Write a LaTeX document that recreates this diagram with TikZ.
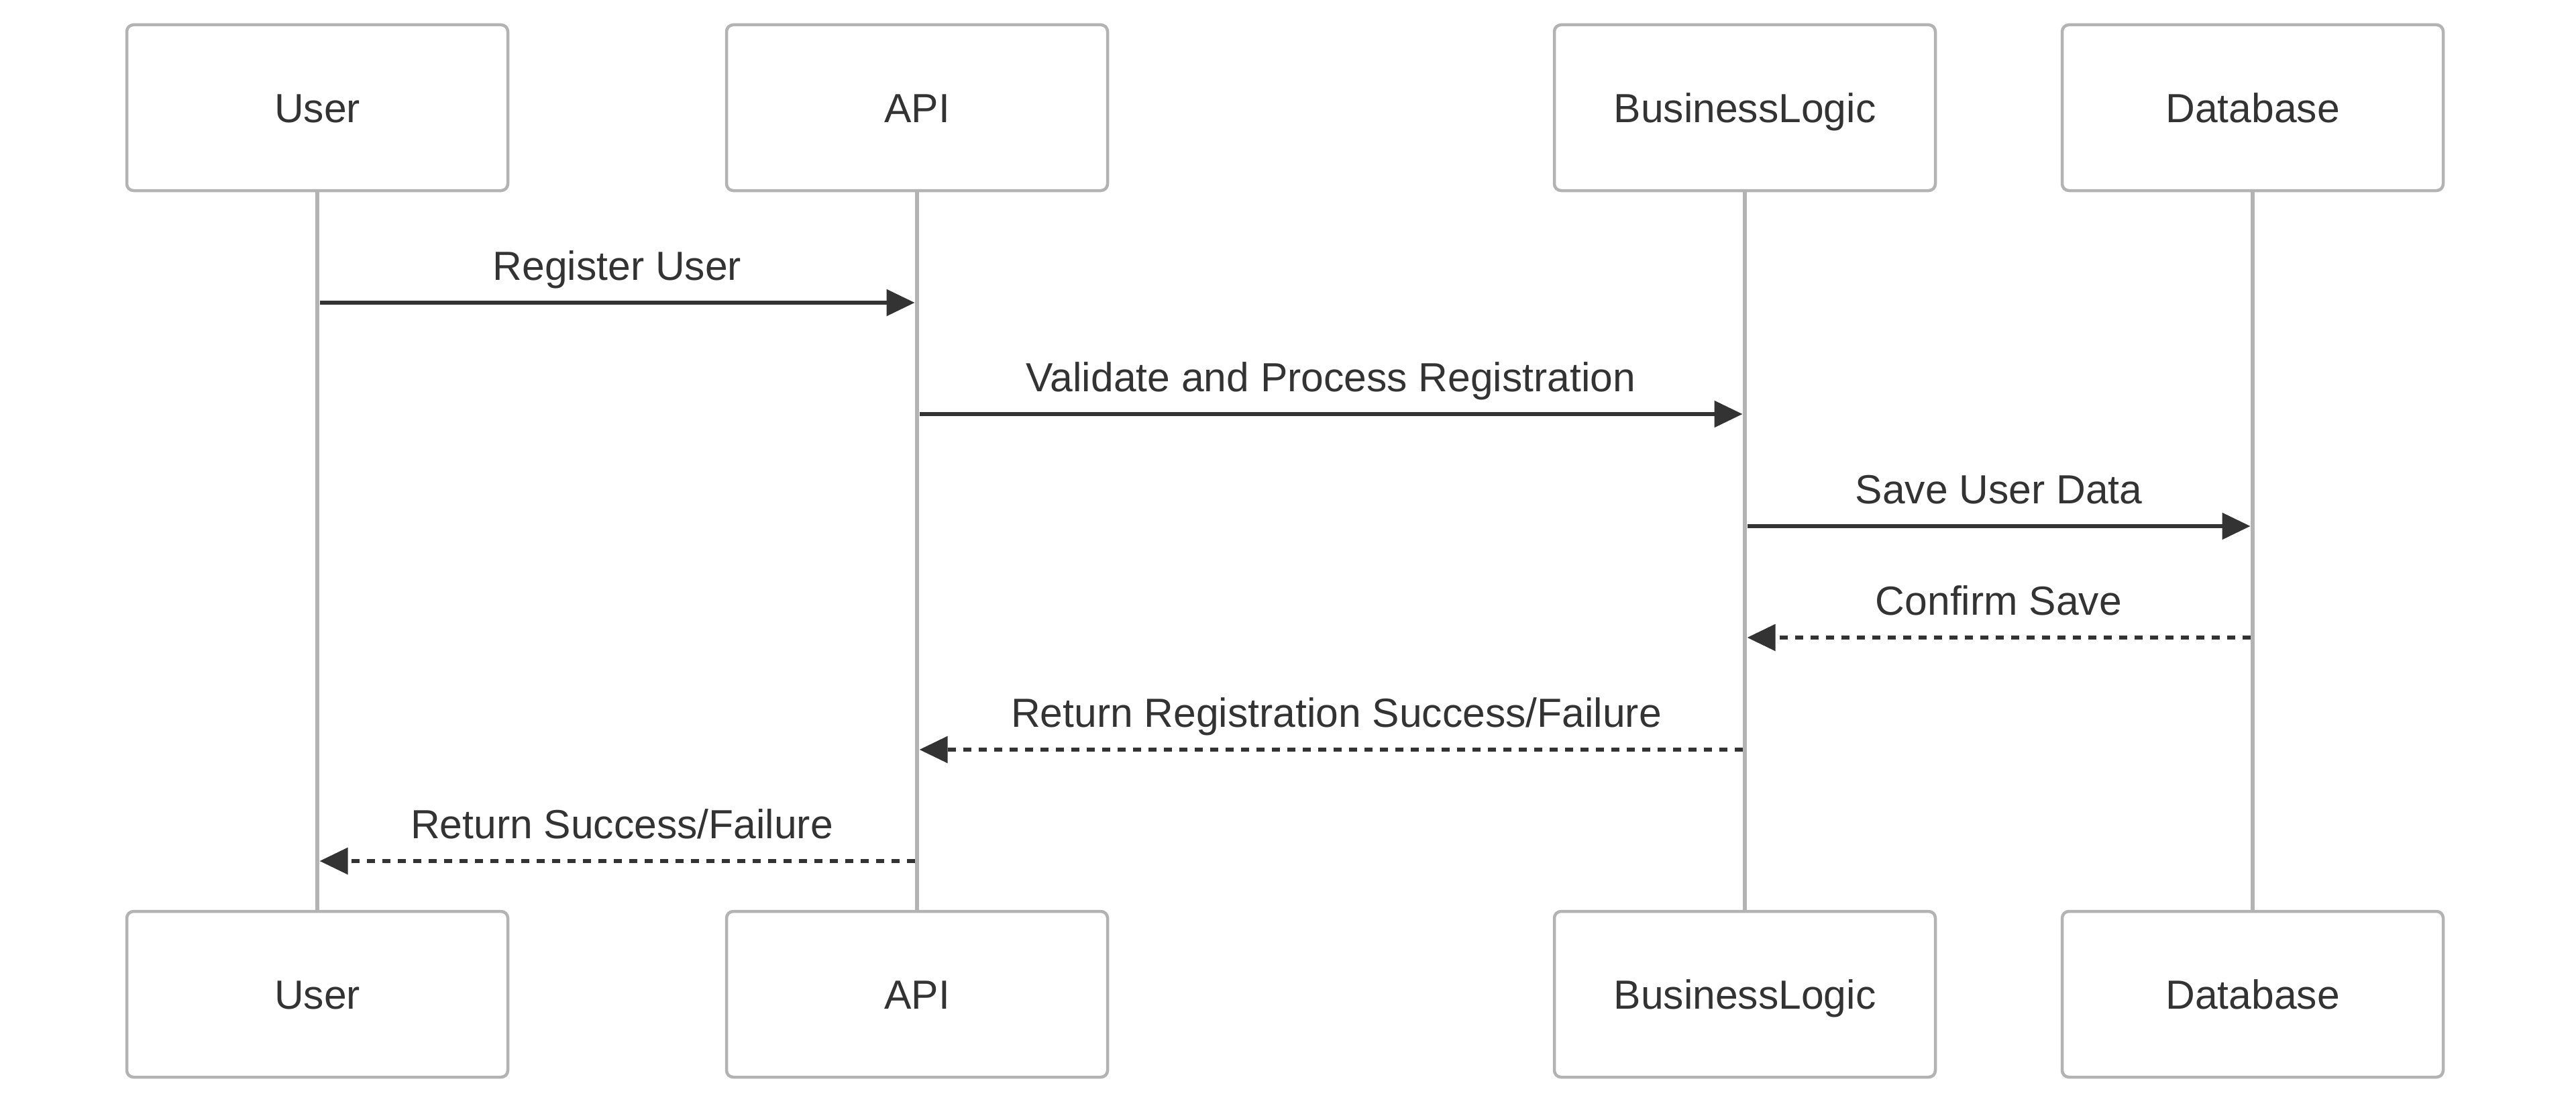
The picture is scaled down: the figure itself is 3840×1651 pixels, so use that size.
\documentclass[tikz,border=0pt]{standalone}
\usepackage{fontspec}
\setmainfont{Liberation Sans}
\usetikzlibrary{arrows.meta}
\definecolor{boxline}{HTML}{B3B3B3}
\definecolor{ink}{HTML}{333333}
\begin{document}
\begin{tikzpicture}[x=1pt,y=-1pt,
  actor/.style={draw=boxline, line width=4.5pt, rounded corners=10pt, fill=white,
    minimum width=568pt, minimum height=247pt, inner sep=0pt,
    text height=43.5pt, text depth=0pt,
    font=\fontsize{60.6}{72}\selectfont, text=ink},
  life/.style={draw=boxline, line width=6.5pt},
  msg/.style={draw=ink, line width=5.5pt, -{Triangle[length=42pt,width=39pt]},
    shorten >=3.5pt, shorten <=3.5pt},
  reply/.style={msg, dash pattern=on 11.5pt off 11.5pt},
  lbl/.style={font=\fontsize{60.6}{72}\selectfont, text=ink, anchor=base,
    inner sep=0pt, midway, yshift=34pt}]
\fill[white] (0,0) rectangle (3840,1651);
\useasboundingbox (0,0) rectangle (3840,1651);
% actors
\node[actor] (u1) at (473,160.5) {User};
\node[actor] (a1) at (1367,160.5) {API};
\node[actor] (b1) at (2601,160.5) {BusinessLogic};
\node[actor] (d1) at (3358,160.5) {Database};
\node[actor] (u2) at (473,1481.5) {User};
\node[actor] (a2) at (1367,1481.5) {API};
\node[actor] (b2) at (2601,1481.5) {BusinessLogic};
\node[actor] (d2) at (3358,1481.5) {Database};
% lifelines
\draw[life] (u1.south) -- (u2.north);
\draw[life] (a1.south) -- (a2.north);
\draw[life] (b1.south) -- (b2.north);
\draw[life] (d1.south) -- (d2.north);
% message rows
\coordinate (r1) at (0,451);
\coordinate (r2) at (0,617);
\coordinate (r3) at (0,784);
\coordinate (r4) at (0,950);
\coordinate (r5) at (0,1117);
\coordinate (r6) at (0,1283);
\draw[msg] (u1.south |- r1) -- node[lbl] {Register User} (a1.south |- r1);
\draw[msg] (a1.south |- r2) -- node[lbl] {Validate and Process Registration} (b1.south |- r2);
\draw[msg] (b1.south |- r3) -- node[lbl] {Save User Data} (d1.south |- r3);
\draw[reply] (d1.south |- r4) -- node[lbl] {Confirm Save} (b1.south |- r4);
\draw[reply] (b1.south |- r5) -- node[lbl, xshift=8pt] {Return Registration Success/Failure} (a1.south |- r5);
\draw[reply] (a1.south |- r6) -- node[lbl, xshift=7pt] {Return Success/Failure} (u1.south |- r6);
\end{tikzpicture}
\end{document}
